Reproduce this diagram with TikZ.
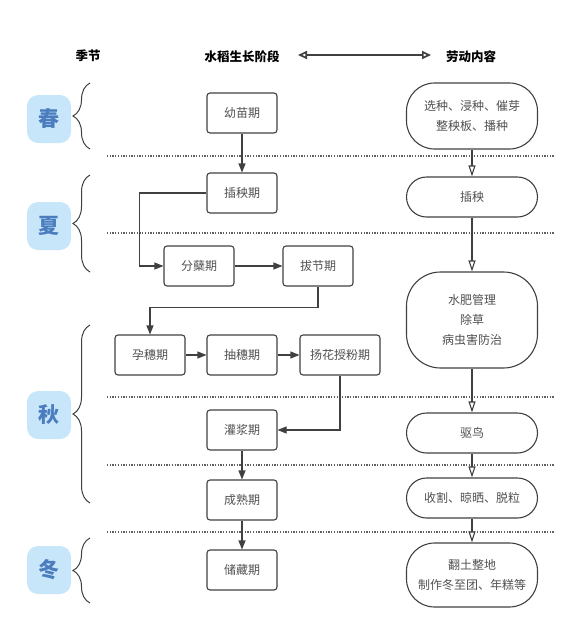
\documentclass[tikz,border=0pt]{standalone}
\usepackage{fontspec}
\setmainfont{Noto Sans CJK SC}
\usetikzlibrary{arrows.meta,decorations.pathreplacing,calc}
\definecolor{boxline}{HTML}{404040}
\definecolor{boxtext}{HTML}{505050}
\definecolor{seasonfill}{HTML}{C8E6FA}
\definecolor{seasontext}{HTML}{4A7CBE}
\definecolor{sepline}{HTML}{606060}
\begin{document}
\begin{tikzpicture}[x=1pt,y=-1pt,
  stagebox/.style={draw=boxline, line width=1.1pt, rounded corners=3pt, minimum width=70pt, minimum height=40pt, text=boxtext, font=\fontsize{12}{14}\selectfont, inner sep=0pt},
  workbox/.style={draw=boxline, line width=1.1pt, minimum width=131pt, text=boxtext, font=\fontsize{12}{20}\selectfont, align=center, inner sep=0pt},
  seasonbox/.style={fill=seasonfill, rounded corners=11pt, minimum width=44pt, minimum height=48pt, text=seasontext, font=\fontsize{21}{24}\selectfont\bfseries, inner sep=0pt},
  header/.style={font=\fontsize{12.5}{14}\selectfont\bfseries, text=black},
  seasonbrace/.style={draw=boxline, line width=1pt, decorate, decoration={brace, amplitude=17pt}},
  sep/.style={draw=sepline, line width=1.4pt, dash pattern=on 1.3pt off 1.4pt},
  flow/.style={draw=boxline, line width=1.1pt, -{Triangle[length=9pt,width=7pt]}},
  workflow/.style={draw=boxline, line width=1.1pt, -{Triangle[open,length=11pt,width=7pt,fill=white]}},
  hdarrow/.style={draw=boxline, line width=1.7pt, {Triangle[open,length=9pt,width=8pt,fill=white]}-{Triangle[open,length=9pt,width=8pt,fill=white]}}
]
\useasboundingbox (0,0) rectangle (588,625);

% headers
\node[header] (h1) at (88,56) {季节};
\node[header] (h2) at (242,57) {水稻生长阶段};
\node[header] (h3) at (471,57) {劳动内容};
\coordinate (ha) at (298,55);
\coordinate (hb) at (431,55);
\draw[hdarrow] (ha) -- (hb);

% separators
\foreach \yy in {156,233,397,465,532} {
  \draw[sep] (107,\yy) -- (555,\yy);
}

% seasons
\node[seasonbox] (s1) at (49,119) {春};
\node[seasonbox] (s2) at (49,226) {夏};
\node[seasonbox] (s3) at (49,415) {秋};
\node[seasonbox] (s4) at (49,570) {冬};
\draw[seasonbrace] (90,149) -- (90,83);
\draw[seasonbrace] (90,272) -- (90,175);
\draw[seasonbrace] (90,503) -- (90,325);
\draw[seasonbrace] (90,603) -- (90,538);

% stages
\node[stagebox] (ym) at (242,113) {幼苗期};
\node[stagebox] (cyq) at (242,193) {插秧期};
\node[stagebox] (fn) at (199,266) {分蘖期};
\node[stagebox] (bj) at (318,266) {拔节期};
\node[stagebox] (ys) at (150,355) {孕穗期};
\node[stagebox] (cs) at (242,355) {抽穗期};
\node[stagebox, minimum width=80pt] (yh) at (340,355) {扬花授粉期};
\node[stagebox] (gj) at (242,430) {灌浆期};
\node[stagebox] (csq) at (242,500) {成熟期};
\node[stagebox] (cc) at (242,570) {储藏期};

\draw[flow] (ym) -- (cyq);
\draw[flow] (cyq.west) -- ++(-67,0) |- (fn.west);
\draw[flow] (fn) -- (bj);
\draw[flow] (bj.south) -- ++(0,21) -| (ys.north);
\draw[flow] (ys) -- (cs);
\draw[flow] (cs) -- (yh);
\draw[flow] (yh.south) |- (gj.east);
\draw[flow] (gj) -- (csq);
\draw[flow] (csq) -- (cc);

% work
\node[workbox, minimum height=66pt, rounded corners=28pt] (w1) at (472,116) {选种、浸种、催芽\\整秧板、播种};
\node[workbox, minimum height=40pt, rounded corners=20pt] (w2) at (472,197) {插秧};
\node[workbox, minimum height=96pt, rounded corners=34pt] (w3) at (472,320) {水肥管理\\除草\\病虫害防治};
\node[workbox, minimum height=40pt, rounded corners=20pt] (w4) at (472,433) {驱鸟};
\node[workbox, minimum height=40pt, rounded corners=20pt] (w5) at (472,498) {收割、晾晒、脱粒};
\node[workbox, minimum height=64pt, rounded corners=28pt] (w6) at (472,575) {翻土整地\\制作冬至团、年糕等};

\draw[workflow] (w1) -- (w2);
\draw[workflow] (w2) -- (w3);
\draw[workflow] (w3) -- (w4);
\draw[workflow] (w4) -- (w5);
\draw[workflow] (w5) -- (w6);
\end{tikzpicture}
\end{document}
